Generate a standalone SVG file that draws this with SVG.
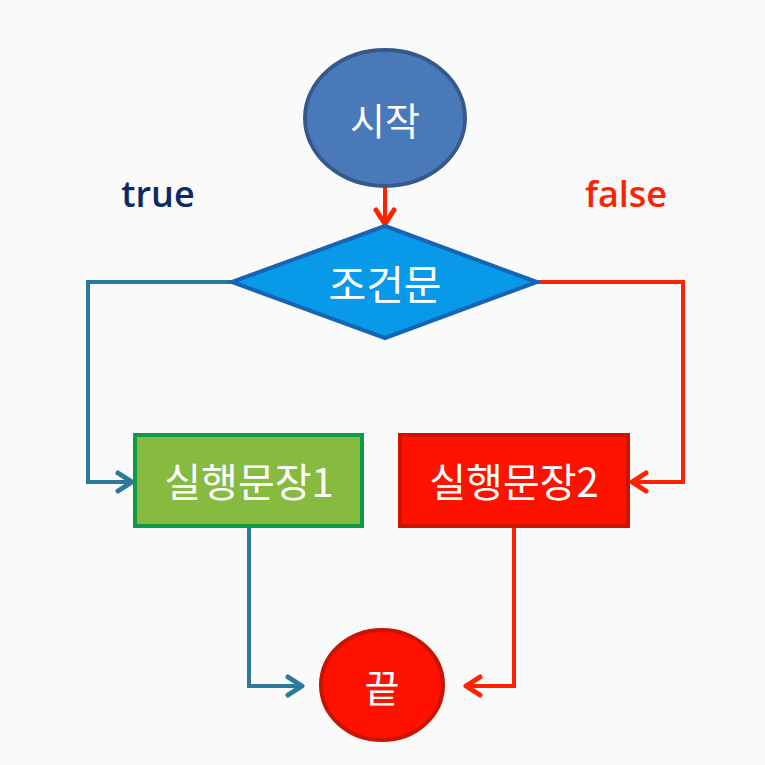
<svg xmlns="http://www.w3.org/2000/svg" width="765" height="765" viewBox="0 0 765 765">
<defs>
<style>
.lbl{font-family:"Noto Sans CJK KR","Noto Sans",sans-serif;fill:#fff;text-anchor:middle;dominant-baseline:central}
.conn{fill:none;stroke-width:4;stroke-linejoin:miter}
.blue{stroke:#2b7a9c}
.red{stroke:#ff2200}
</style>
<marker id="ab" markerUnits="userSpaceOnUse" markerWidth="30" markerHeight="30" refX="20" refY="15" orient="auto" viewBox="0 0 30 30">
<path d="M6,6 L20,15 L6,24" fill="none" stroke="#2b7a9c" stroke-width="5" stroke-linecap="round" stroke-linejoin="round"/>
</marker>
<marker id="ar" markerUnits="userSpaceOnUse" markerWidth="30" markerHeight="30" refX="20" refY="15" orient="auto" viewBox="0 0 30 30">
<path d="M6,6 L20,15 L6,24" fill="none" stroke="#ff2200" stroke-width="5" stroke-linecap="round" stroke-linejoin="round"/>
</marker>
</defs>
<rect width="765" height="765" fill="#fafafa"/>
<g id="connectors">
<path class="conn red" d="M385,188 L385,224" marker-end="url(#ar)"/>
<path class="conn blue" d="M232,282 L88,282 L88,482 L132,482" marker-end="url(#ab)"/>
<path class="conn red" d="M537,282 L683,282 L683,482 L632,482" marker-end="url(#ar)"/>
<path class="conn blue" d="M249,527 L249,686 L302,686" marker-end="url(#ab)"/>
<path class="conn red" d="M514,527 L514,686 L466,686" marker-end="url(#ar)"/>
</g>
<g id="start">
<ellipse cx="385" cy="118" rx="80" ry="68" fill="#4a79b9" stroke="#34598a" stroke-width="4"/>
<text class="lbl" x="385" y="118" font-size="38">시작</text>
</g>
<g id="cond">
<polygon points="385,226 537,282 385,338 232,282" fill="#0899e8" stroke="#1664b4" stroke-width="4"/>
<text class="lbl" x="385" y="282" font-size="41">조건문</text>
</g>
<g id="stmt1">
<rect x="135" y="435" width="227" height="91" fill="#86bb40" stroke="#0f9a48" stroke-width="4"/>
<text class="lbl" x="249" y="480" font-size="40">실행문장1</text>
</g>
<g id="stmt2">
<rect x="400" y="435" width="228" height="91" fill="#ff1100" stroke="#cc1400" stroke-width="4"/>
<text class="lbl" x="514" y="480" font-size="40">실행문장2</text>
</g>
<g id="end">
<ellipse cx="382" cy="685" rx="61" ry="55" fill="#ff1100" stroke="#c81400" stroke-width="4"/>
<text class="lbl" x="382" y="685" font-size="38">끝</text>
</g>
<text x="158" y="207" font-family="'Open Sans','Noto Sans',sans-serif" font-weight="600" font-size="36" fill="#0d2a66" text-anchor="middle">true</text>
<text x="626" y="207" font-family="'Open Sans','Noto Sans',sans-serif" font-weight="600" font-size="36" fill="#ff2200" text-anchor="middle">false</text>
</svg>
